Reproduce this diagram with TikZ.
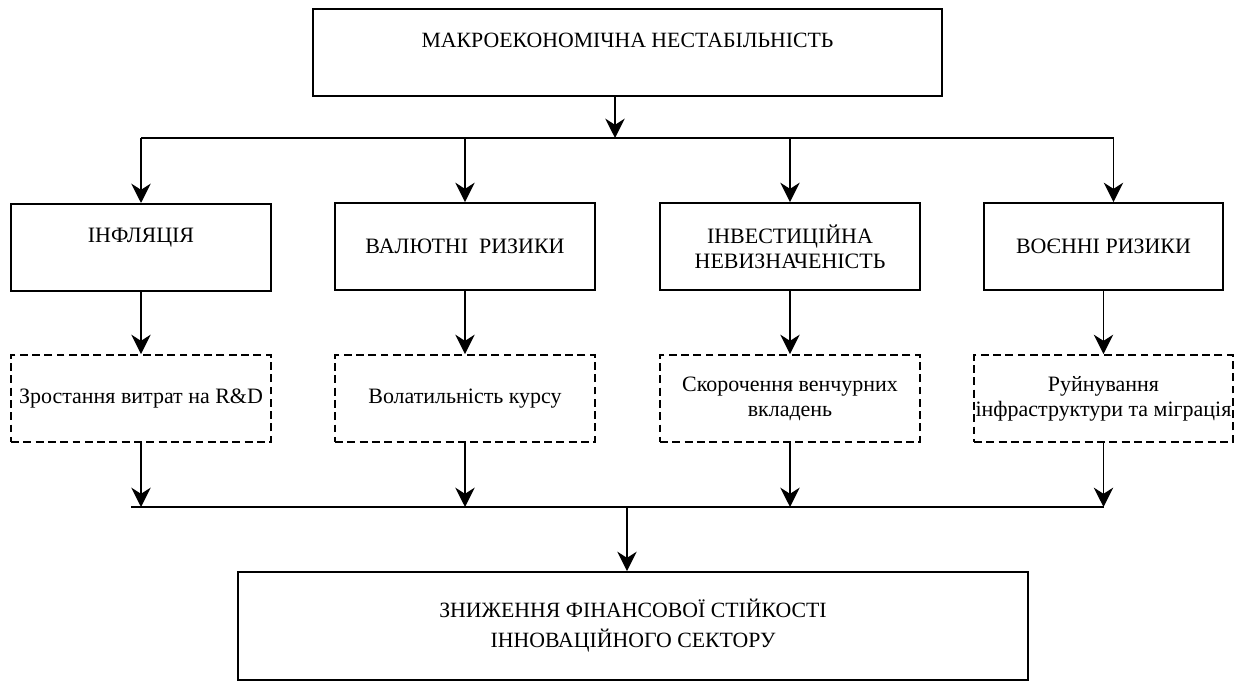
\documentclass[tikz,border=0pt]{standalone}
\usepackage{fontspec}
\setmainfont{Liberation Serif}
\usetikzlibrary{arrows.meta}
\tikzset{
  blok/.style={draw,line width=1.1pt,inner sep=0pt,align=center,minimum width=5.2cm,minimum height=1.74cm,font=\fontsize{12.5}{14.2}\selectfont},
  shtrykh/.style={blok,dash pattern=on 4.5pt off 2.5pt},
  strilka/.style={->,line width=1.1pt},
  shyna/.style={line width=1.1pt}
}

\begin{document}
\begin{tikzpicture}[line cap=butt,line join=miter,>={Stealth[length=11pt,width=11pt,inset=3.5pt]},x=0.02cm,y=-0.02cm]
            \useasboundingbox (0,0) rectangle (1234,682);
            \node [blok,anchor=north,minimum width=12.58cm,text height=0.78cm,text depth=0.96cm,font=\fontsize{12.4}{16}\selectfont] (macro) at (627.5,8) {МАКРОЕКОНОМІЧНА НЕСТАБІЛЬНІСТЬ};
            \node [blok,anchor=north,text height=0.78cm,text depth=0.96cm] (infl) at (141,203) {ІНФЛЯЦІЯ};
            \node [blok] (valut) at (465,246.5) {ВАЛЮТНІ~~РИЗИКИ};
            \node [blok] (invest) at (790,246.5) {ІНВЕСТИЦІЙНА\\НЕВИЗНАЧЕНІСТЬ};
            \node [blok,minimum width=4.78cm] (voen) at (1103.5,246.5) {ВОЄННІ РИЗИКИ};
            \node [shtrykh] (rd) at (141,398.5) {Зростання витрат на R\&D};
            \node [shtrykh] (kurs) at (465,398.5) {Волатильність курсу};
            \node [shtrykh] (venchur) at (790,398.5) {Скорочення венчурних\\вкладень};
            \node [shtrykh,minimum width=5.18cm] (infra) at (1103.5,398.5) {Руйнування\\інфраструктури та міграція};
            \node [blok,minimum width=15.81cm,minimum height=2.16cm,font=\fontsize{12.4}{17}\selectfont] (result) at (633,626) {ЗНИЖЕННЯ ФІНАНСОВОЇ СТІЙКОСТІ\\ІННОВАЦІЙНОГО СЕКТОРУ};
            % upper bus
            \coordinate (busTop) at (615,138);
            \coordinate (voenIn) at ([xshift=0.2cm]voen.north);
            \draw [strilka] (macro.south -| busTop) -- (busTop);
            \draw [shyna] (infl.north |- busTop) -- (voenIn |- busTop);
            \foreach \n in {infl,valut,invest}
              \draw [strilka] (\n.north |- busTop) -- (\n.north);
            \draw [strilka] (voenIn |- busTop) -- (voenIn);
            % middle arrows
            \draw [strilka] (infl) -- (rd);
            \draw [strilka] (valut) -- (kurs);
            \draw [strilka] (invest) -- (venchur);
            \draw [strilka] (voen) -- (infra);
            % lower bus
            \coordinate (busBot) at (627,507);
            \foreach \n in {rd,kurs,venchur,infra}
              \draw [strilka] (\n) -- (\n |- busBot);
            \draw [shyna] ([xshift=-0.2cm]rd.south |- busBot) -- (infra.south |- busBot);
            \draw [strilka] (busBot) -- (result.north -| busBot);
\end{tikzpicture}
\end{document}
